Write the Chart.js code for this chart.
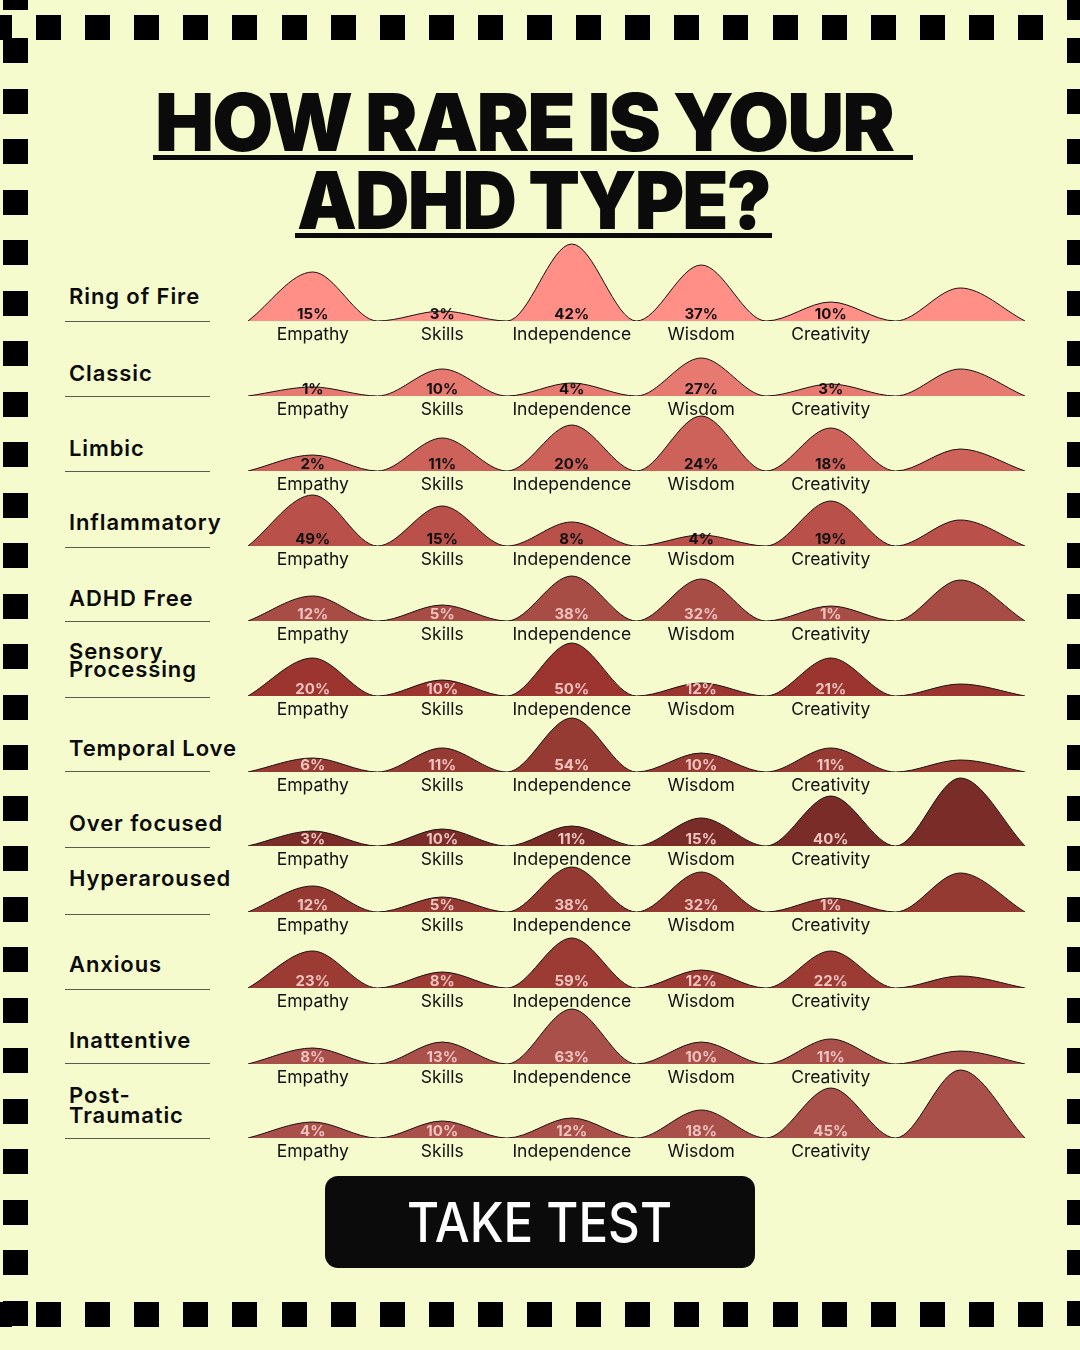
<!DOCTYPE html>
<html><head><meta charset="utf-8">
<script src="https://cdn.jsdelivr.net/npm/chart.js@4.4.1/dist/chart.umd.min.js"></script>
<style>
html,body{margin:0;padding:0;}
body{width:1080px;height:1350px;background:#f5fbcd;position:relative;overflow:hidden;font-family:Inter,"Open Sans",sans-serif;color:#0b0b0b;}
.sq{position:absolute;width:25px;height:25px;background:#000;}
.abs{position:absolute;white-space:nowrap;}
.title{font-weight:900;font-size:80px;line-height:80px;letter-spacing:-2px;transform-origin:0 0;}
.rowname{font-weight:600;font-size:22px;line-height:22px;letter-spacing:0.9px;left:69px;}
.uline{position:absolute;left:65px;width:145px;height:1px;background:#5a5a50;}
canvas.row{position:absolute;left:248px;}
#btn{position:absolute;left:325px;top:1176px;width:430px;height:92px;background:#0b0b0b;border-radius:13px;}
#btntext{color:#fff;font-weight:500;font-size:55px;line-height:55px;transform-origin:0 0;}
</style></head><body>
<script>
// ---------------- DATA ----------------
const typeNames = ["Ring of Fire","Classic","Limbic","Inflammatory","ADHD Free","Sensory\nProcessing","Temporal Love","Over focused","Hyperaroused","Anxious","Inattentive","Post-\nTraumatic"];
const categories = ["Empathy","Skills","Independence","Wisdom","Creativity"];
// percentage labels, per trait, for the 12 types (top to bottom)
const empathyPct      = [15, 1, 2,49,12,20, 6, 3,12,23, 8, 4];
const skillsPct       = [ 3,10,11,15, 5,10,11,10, 5, 8,13,10];
const independencePct = [42, 4,20, 8,38,50,54,11,38,59,63,12];
const wisdomPct       = [37,27,24, 4,32,12,10,15,32,12,10,18];
const creativityPct   = [10, 3,18,19, 1,21,11,40, 1,22,11,45];
// curve peak heights (unlabelled 6th bump included)
const empathyPeak      = [49, 9,16,51,25,38,14,15,26,37,16,16];
const skillsPeak       = [10,27,33,40,16,16,24,17,15,16,22,17];
const independencePeak = [77,13,46,24,45,53,54,20,45,50,55,20];
const wisdomPeak       = [56,38,55,11,42,13,19,28,40,18,22,28];
const creativityPeak   = [19,12,43,45,15,38,24,50,14,37,25,50];
const extraPeak        = [33,27,22,26,41,12,12,68,39,12,13,68];
const rowColors = ["#ff8f87","#e67a71","#cd625a","#b9514a","#a84c46","#9c3530","#963a34","#7a2d28","#953a33","#9c3a34","#a9504a","#a9504a"];
const pctColors = ["#111","#111","#111","#111","#f0c4bf","#f0c4bf","#f0c4bf","#f0c4bf","#f0c4bf","#f0c4bf","#f0c4bf","#f0c4bf"];

// ---------------- LAYOUT ----------------
const rowBaselines = [321,396,471,546,621,696,772,846,912,988,1064,1138];
const nameBaselines = [[304],[381],[456],[530],[606],[659,677],[756],[831],[886],[972],[1048],[1103,1123]];
const underlineYs = [321,396,471,547,621,697,771,847,914,989,1063,1138];
const FONT = 'Inter, "Open Sans", sans-serif';

function el(cls, css, txt){const d=document.createElement('div');d.className=cls;Object.assign(d.style,css);if(txt!==undefined)d.textContent=txt;document.body.appendChild(d);return d;}

// dashed square frame
for(let k=0;k<=20;k++){const x=36+49.1*k;el('sq',{left:x+'px',top:'15px'});el('sq',{left:x+'px',top:'1302px'});}
for(let k=0;k<=25;k++){const y=38+50.5*k;el('sq',{left:'3px',top:y+'px'});el('sq',{left:'1067px',top:y+'px'});}
el('sq',{left:'3px',top:'-15px'});el('sq',{left:'1067px',top:'-5px'});
el('sq',{left:'-13px',top:'15px'});el('sq',{left:'-13px',top:'1302px'});

// title
const t1 = el('abs title',{left:'155px',top:(151-0.8635*80)+'px'},'HOW RARE IS YOUR');
const t2 = el('abs title',{left:'297px',top:(229-0.8635*80)+'px'},'ADHD TYPE?');
el('abs',{left:'153px',top:'155px',width:'760px',height:'5px',background:'#0b0b0b'});
el('abs',{left:'295px',top:'233px',width:'477px',height:'5px',background:'#0b0b0b'});

// row names and underlines
typeNames.forEach((name,i)=>{
  name.split('\n').forEach((line,j)=>{
    el('abs rowname',{top:(nameBaselines[i][j]-0.8635*22)+'px'},line);
  });
  el('uline',{top:underlineYs[i]+'px'});
});

// button
el('',{},undefined).id='btn';
const bt = el('abs',{left:'0',top:'0'},'TAKE TEST'); bt.id='btntext';

function fitWidth(node, left, width){
  const w = node.getBoundingClientRect().width;
  node.style.transform = 'scaleX('+(width/w)+')';
  node.style.left = left+'px';
}
fitWidth(t1,155,738);
fitWidth(t2,297,473);
bt.style.top = (1242 - 0.8635*55)+'px';
fitWidth(bt,407,265);

// ---------------- CHARTS ----------------
const pctCols = [empathyPct,skillsPct,independencePct,wisdomPct,creativityPct];
const peakCols = [empathyPeak,skillsPeak,independencePeak,wisdomPeak,creativityPeak,extraPeak];

const pctPlugin = {
  id:'pctLabels',
  afterDatasetsDraw(chart, args, opts){
    const ctx = chart.ctx, xs = chart.scales.x, ys = chart.scales.y;
    ctx.save();
    ctx.font = 'bold 15px ' + FONT;
    ctx.fillStyle = opts.color;
    ctx.textAlign = 'center';
    ctx.textBaseline = 'alphabetic';
    opts.values.forEach((v,i)=>{
      ctx.fillText(v+'%', xs.getPixelForValue(2*i+1), ys.getPixelForValue(0)-2);
    });
    ctx.restore();
  }
};

typeNames.forEach((name,i)=>{
  const cv = document.createElement('canvas');
  cv.className='row'; cv.width=777; cv.height=110;
  cv.style.top = (rowBaselines[i]-80)+'px';
  document.body.appendChild(cv);
  const pts = [{x:0,y:0}];
  peakCols.forEach((col,k)=>{pts.push({x:2*k+1,y:col[i]});pts.push({x:2*k+2,y:0});});
  new Chart(cv,{
    type:'line',
    data:{datasets:[{data:pts,fill:'origin',backgroundColor:rowColors[i],borderColor:'#1a1010',borderWidth:1,pointRadius:0,cubicInterpolationMode:'monotone'}]},
    options:{
      responsive:false,animation:false,devicePixelRatio:1,
      layout:{padding:0},
      plugins:{legend:{display:false},tooltip:{enabled:false},
        pctLabels:{values:pctCols.map(c=>c[i]),color:pctColors[i]}},
      scales:{
        x:{type:'linear',min:0,max:12,
          afterBuildTicks:s=>{s.ticks=[1,3,5,7,9].map(v=>({value:v}));},
          afterFit:s=>{s.height=30;},
          ticks:{autoSkip:false,maxRotation:0,padding:3,color:'#111',font:{family:FONT,size:17.5},
            callback:v=>categories[(v-1)/2]},
          grid:{display:false,drawTicks:false},border:{display:false}},
        y:{display:false,min:0,max:80}
      }
    },
    plugins:[pctPlugin]
  });
});
</script>
</body></html>
